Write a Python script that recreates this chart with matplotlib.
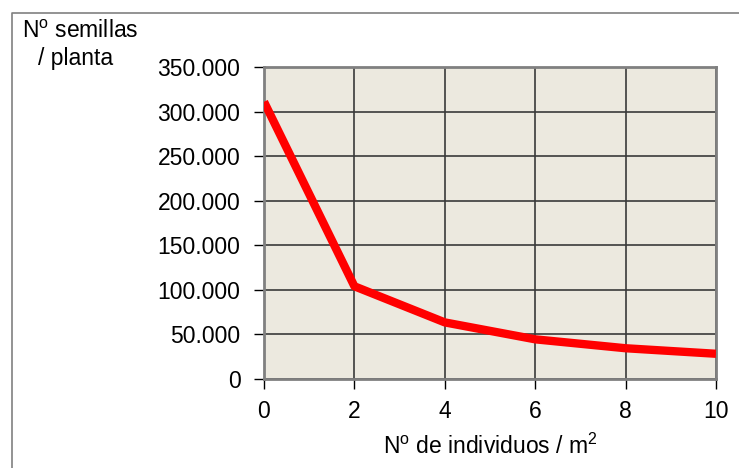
import matplotlib
matplotlib.use("Agg")
import matplotlib.pyplot as plt
from matplotlib.lines import Line2D

# data
densidad = [0, 2, 4, 6, 8, 10]
semillas = [311000, 104000, 63500, 44500, 34500, 28300]
y_ticks = [0, 50000, 100000, 150000, 200000, 250000, 300000, 350000]
y_labels = ["0", "50.000", "100.000", "150.000", "200.000", "250.000", "300.000", "350.000"]
x_ticks = [0, 2, 4, 6, 8, 10]

plt.rcParams["font.family"] = ["Liberation Sans", "DejaVu Sans"]
plt.rcParams["mathtext.fontset"] = "custom"
plt.rcParams["mathtext.rm"] = "Liberation Sans"
plt.rcParams["mathtext.it"] = "Liberation Sans"

W, H = 739, 468
fs = 16.5
fig = plt.figure(figsize=(W / 100, H / 100), dpi=100)

# axes box in pixels: left 264, right 716, top 67, bottom 379
ax = fig.add_axes([264 / W, 1 - 379 / H, (716 - 264) / W, (379 - 67) / H])
ax.set_facecolor("#ECE9DF")

ax.plot(densidad, semillas, color="#FF0000", lw=6, solid_capstyle="butt",
        solid_joinstyle="round", zorder=3)

ax.set_xlim(0, 10)
ax.set_ylim(0, 350000)
ax.set_xticks(x_ticks)
ax.set_yticks(y_ticks)
ax.set_yticklabels(y_labels)
ax.grid(True, color="#3a3a3a", lw=1.2, zorder=1)
ax.set_axisbelow(True)

for s in ax.spines.values():
    s.set_color("#808080")
    s.set_linewidth(2)

ax.tick_params(axis="both", direction="out", length=7, width=1, color="black",
               labelsize=fs)
ax.tick_params(axis="y", pad=10)
ax.tick_params(axis="x", pad=8)

ax.set_xlabel("N$^{\\mathrm{o}}$ de individuos / m$^{2}$", fontsize=fs, labelpad=8)

fig.text(22 / W, 1 - 32 / H, "N$^{\\mathrm{o}}$ semillas", fontsize=fs,
         ha="left", va="center")
fig.text(38 / W, 1 - 59 / H, "/ planta", fontsize=fs, ha="left", va="center")

# outer chart border (only top and left edges fall inside the image)
fig.add_artist(Line2D([12 / W, 12 / W, 1], [0, 1 - 12.5 / H, 1 - 12.5 / H],
                      transform=fig.transFigure, color="#808080", lw=1.2))

fig.savefig("out.png", dpi=100)
